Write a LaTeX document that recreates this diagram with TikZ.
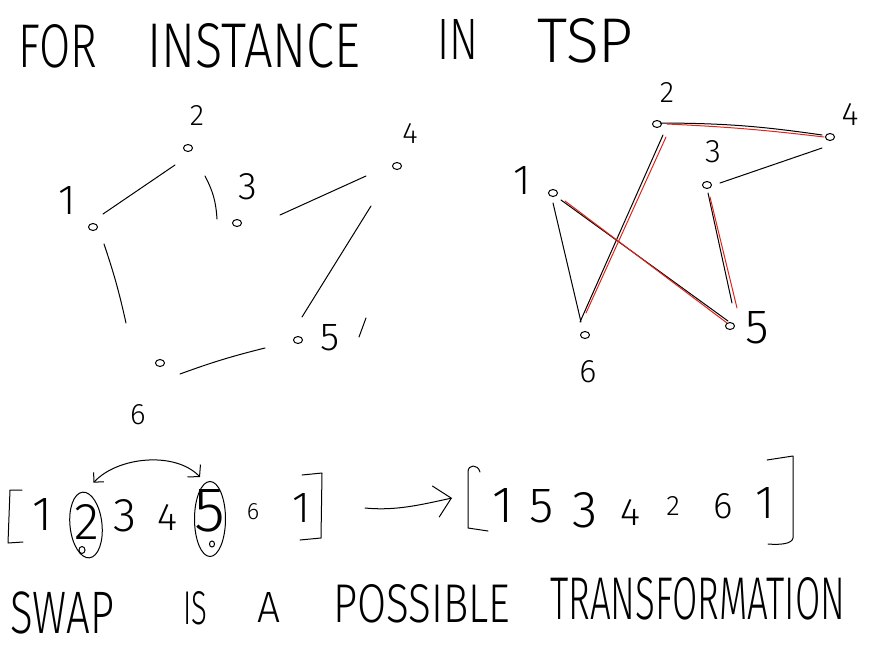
\documentclass[tikz,border=0pt]{standalone}
\usepackage{fontspec}
\usepackage{graphicx}
\usetikzlibrary{calc,shapes.geometric,arrows.meta}
\newfontfamily\handfont{Fira Sans Light}
\definecolor{penred}{RGB}{225,35,25}
\newcommand{\hwt}[3]{\resizebox{#1pt}{#2pt}{\handfont #3}}
\newcommand{\hwh}[2]{\resizebox{!}{#1pt}{\handfont #2}}
\begin{document}
\begin{tikzpicture}[x=1pt,y=-1pt,
  pen/.style={line width=1pt, line cap=round, line join=round},
  redpen/.style={line width=1pt, line cap=round, draw=penred},
  vtx/.style={ellipse, draw, line width=1pt, inner sep=0pt, minimum width=9pt, minimum height=7pt},
  txt/.style={inner sep=0pt, anchor=south west},
  lab/.style={inner sep=0pt},
  ring/.style={ellipse, draw, line width=1pt, inner sep=0pt}
]
\useasboundingbox (0,0) rectangle (878,648);
\fill[white] (0,0) rectangle (878,648);

% title
\node[txt] (tFor) at (18,68) {\hwt{79}{43}{FOR}};
\node[txt] (tInstance) at (147,68) {\hwt{213}{44}{INSTANCE}};
\node[txt] (tIn) at (437,60) {\hwt{41}{40}{IN}};
\node[txt] (tTsp) at (537,63) {\hwt{96}{44}{TSP}};

% left graph
\node[vtx] (l1) at (93,227) {};
\node[vtx] (l2) at (188,148) {};
\node[vtx] (l3) at (237,223) {};
\node[vtx] (l4) at (397,166) {};
\node[vtx] (l5) at (298,340) {};
\node[vtx] (l6) at (160,363) {};
\node[lab] (l1lab) at (67,200) {\hwh{28}{1}};
\node[lab] (l2lab) at (197,115) {\hwh{20}{2}};
\node[lab] (l3lab) at (248,187) {\hwh{26}{3}};
\node[lab] (l4lab) at (410,133) {\hwh{20}{4}};
\node[lab] (l5lab) at (330,338) {\hwh{26}{5}};
\node[lab] (l6lab) at (138,415) {\hwh{20}{6}};
\draw[pen] ($(l1)+(10,-13)$) -- ($(l2)+(-13,17)$);
\draw[pen] ($(l2)+(17,28)$) to[bend left=12] ($(l3)+(-20,-4)$);
\draw[pen] ($(l3)+(43,-8)$) -- ($(l4)+(-31,10)$);
\draw[pen] ($(l4)+(-26,40)$) -- ($(l5)+(4,-23)$);
\draw[pen] ($(l1)+(11,17)$) to[bend left=3] ($(l6)+(-34,-40)$);
\draw[pen] ($(l6)+(20,11)$) to[bend left=3] ($(l5)+(-33,8)$);
\draw[pen] ($(l5)+(68,-22)$) -- ($(l5)+(61,-3)$);

% right graph
\node[vtx] (r1) at (553,193) {};
\node[vtx] (r2) at (657,124) {};
\node[vtx] (r3) at (707,185) {};
\node[vtx] (r4) at (830,137) {};
\node[vtx] (r5) at (730,326) {};
\node[vtx] (r6) at (585,335) {};
\node[lab] (r1lab) at (522,180) {\hwh{28}{1}};
\node[lab] (r2lab) at (667,92) {\hwh{20}{2}};
\node[lab] (r3lab) at (713,152) {\hwh{22}{3}};
\node[lab] (r4lab) at (850,114) {\hwh{22}{4}};
\node[lab] (r5lab) at (757,328) {\hwh{32}{5}};
\node[lab] (r6lab) at (588,372) {\hwh{22}{6}};
% black tour
\draw[pen] ($(r2)+(3,-1)$) to[bend left=4] ($(r4)+(-8,-2)$);
\draw[pen] ($(r4)+(-8,11)$) -- ($(r3)+(13,-2)$);
\draw[pen] ($(r3)+(1,8)$) -- ($(r5)+(2,-23)$);
\draw[pen] ($(r1)+(8,7)$) -- ($(r5)+(-2,-5)$);
\draw[pen] ($(r2)+(6,11)$) -- ($(r6)+(-5,-13)$);
\draw[pen] ($(r1)+(0,10)$) -- ($(r6)+(-4,-13)$);
% red tour
\draw[redpen] ($(r2)+(10,0)$) to[bend left=2] ($(r4)+(-6,0)$);
\draw[redpen] ($(r3)+(3,12)$) -- ($(r5)+(7,-18)$);
\draw[redpen] ($(r1)+(12,8)$) -- ($(r5)+(-3,-3)$);
\draw[redpen] ($(r2)+(9,13)$) -- ($(r6)+(1,-22)$);

% first list
\draw[pen] (22,490) -- (10,490) -- (8,543) -- (23,542);
\node[lab] (a1) at (42,514) {\hwh{32}{1}};
\node[lab] (a2) at (87,522) {\hwh{35}{2}};
\node[lab] (a3) at (125,516) {\hwh{32}{3}};
\node[lab] (a4) at (167,517) {\hwh{26}{4}};
\node[lab] (a5) at (210,511) {\hwh{42}{5}};
\node[lab] (a6) at (253,512) {\hwh{16}{6}};
\node[lab] (a7) at (302,508) {\hwh{29}{1}};
\draw[pen] (302,475) -- (322,473) -- (321,538) -- (300,540);
\node[ring, minimum width=32pt, minimum height=66pt, rotate=6] (e2) at (86,525) {};
\node[ring, minimum width=31pt, minimum height=75pt] (e5) at (210,519) {};
\node[ring, minimum width=6pt, minimum height=7pt] (d2) at (82,550) {};
\node[ring, minimum width=5pt, minimum height=6pt] (d5) at (212,544) {};
\draw[pen, {Straight Barb[length=7pt,width=14pt]}-{Straight Barb[length=8pt,width=18pt]}]
  ($(e2.north)+(11,-9)$) .. controls ($(e2.north)+(35,-35)$) and ($(e5.north)+(-35,-30)$) .. ($(e5.north)+(-10,-4)$);

% transformation arrow
\coordinate (aS) at (365,508);
\coordinate (aE) at (452,498);
\draw[pen, -{Straight Barb[length=16pt,width=32pt]}] (aS) .. controls (395,511) and (420,505) .. (aE);

% second list
\draw[pen] (480,472) .. controls (478,464) and (468,464) .. (468,472) -- (468,528) -- (488,531);
\node[lab] (b1) at (503,505) {\hwh{34}{1}};
\node[lab] (b2) at (542,506) {\hwh{33}{5}};
\node[lab] (b3) at (585,510) {\hwh{35}{3}};
\node[lab] (b4) at (630,512) {\hwh{26}{4}};
\node[lab] (b5) at (673,506) {\hwh{19}{2}};
\node[lab] (b6) at (723,506) {\hwh{25}{6}};
\node[lab] (b7) at (765,503) {\hwh{31}{1}};
\draw[pen] (767,460) -- (793,456) -- (793,538) .. controls (792,544) and (780,545) .. (768,544);

% bottom text
\node[txt] (sSwap) at (10,634) {\fontsize{60}{60}\selectfont\handfont\addfontfeature{FakeStretch=0.7}SWAP};
\node[txt] (sIs) at (183,625) {\hwt{24}{33}{IS}};
\node[txt] (sA) at (257,623) {\hwt{23}{30}{A}};
\node[txt] (sPossible) at (333,623) {\hwt{177}{38}{POSSIBLE}};
\node[txt] (sTrans) at (550,620) {\hwt{295}{42}{TRANSFORMATION}};
\end{tikzpicture}
\end{document}
